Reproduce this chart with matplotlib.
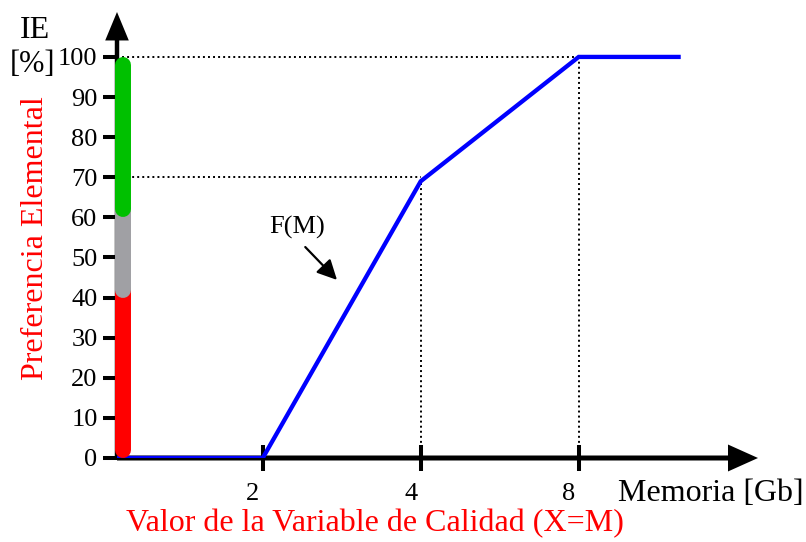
import numpy as np
import matplotlib
matplotlib.use("Agg")
import matplotlib.pyplot as plt
import matplotlib.transforms as mtransforms

plt.rcParams['font.family'] = ['Liberation Serif', 'DejaVu Serif']

# data
mem = [1.055, 2, 4, 8, 12.4]          # Memoria [Gb]
ie = [0, 0, 69, 100, 100]             # IE [%]
xticks = [2, 4, 8]
xtick_labels = ['2', '4', '8']
yticks = list(range(0, 101, 10))
guide_x = [4, 8]                      # dotted guides
guide_y = [70, 100]
guide_top = [69, 100]
bands = [(0, 40), (40, 60), (60, 100)]
band_colors = ['#ff0000', '#a0a0a4', '#00c000']

fig = plt.figure(figsize=(8.06, 5.42), dpi=100)
W, H = 806, 542
ax = fig.add_axes([117 / W, 84 / H, 641 / W, 446 / H])
ax.set_xscale('log', base=2)
x0 = mem[0]
ax.set_xlim(x0, 17.57)
ax.set_ylim(0, 111.2)
for s in ax.spines.values():
    s.set_visible(False)

# axes with arrows
ax.annotate('', xy=(1, 0), xytext=(0, 0), xycoords='axes fraction',
            arrowprops=dict(facecolor='k', edgecolor='none', width=3.6,
                            headwidth=19.4, headlength=21.6, shrink=0),
            zorder=1.5)
ax.annotate('', xy=(0, 1), xytext=(0, 0), xycoords='axes fraction',
            arrowprops=dict(facecolor='k', edgecolor='none', width=3.2,
                            headwidth=17, headlength=20.5, shrink=0),
            zorder=1.5)

# dotted guides
for gx, gy, gt in zip(guide_x, guide_y, guide_top):
    ax.plot([x0, gx], [gy, gy], color='k', lw=1.4, ls=(0, (1, 1.6)), zorder=1)
    ax.plot([gx, gx], [0, gt], color='k', lw=1.4, ls=(0, (1, 1.6)), zorder=1)

# F(M)
ax.plot(mem, ie, color='#0000ff', lw=3.1, zorder=2, solid_joinstyle='miter')

# preference bar on the y axis, each band's round cap laps over the one below
bar_x = 1.084
cap = 2.0
for i, ((lo, hi), c) in enumerate(zip(bands, band_colors)):
    top = hi - cap if i == len(bands) - 1 else hi + cap
    ax.plot([bar_x, bar_x], [lo + cap, top], color=c, lw=11.5,
            solid_capstyle='round', zorder=3, clip_on=False)

ax.text(2.325, 57.4, 'F(M)', fontsize=19, ha='center', va='center')
ax.annotate('', xy=(2.77, 44.4), xytext=(2.41, 52.6),
            arrowprops=dict(arrowstyle='-|>', color='k', lw=1.6,
                            mutation_scale=30, shrinkA=0, shrinkB=0))

ax.set_xticks(xticks)
ax.set_xticklabels(xtick_labels)
ax.set_xticks([], minor=True)
ax.set_yticks(yticks)
ax.tick_params(axis='x', direction='inout', length=19.4, width=2.9,
               labelsize=19, pad=8)
ax.tick_params(axis='y', direction='out', length=10, width=2.9,
               labelsize=19, pad=4)
off = mtransforms.ScaledTranslation(-10 / 100, 0, fig.dpi_scale_trans)
for lab in ax.get_xticklabels():
    lab.set_transform(lab.get_transform() + off)

fig.text(618 / W, 1 - 501 / H, 'Memoria [Gb]', fontsize=23, ha='left',
         va='baseline')
fig.text(375 / W, 1 - 531 / H, 'Valor de la Variable de Calidad (X=M)',
         fontsize=23, color='#ff0000', ha='center', va='baseline')
fig.text(36 / W, 1 - 238 / H, 'Preferencia Elemental', fontsize=23,
         color='#ff0000', rotation=90, ha='center', va='center')
fig.text(35 / W, 1 - 30 / H, 'IE', fontsize=23, ha='center', va='center')
fig.text(33 / W, 1 - 64 / H, '[%]', fontsize=22, ha='center', va='center')

fig.savefig('out.png', dpi=100)
